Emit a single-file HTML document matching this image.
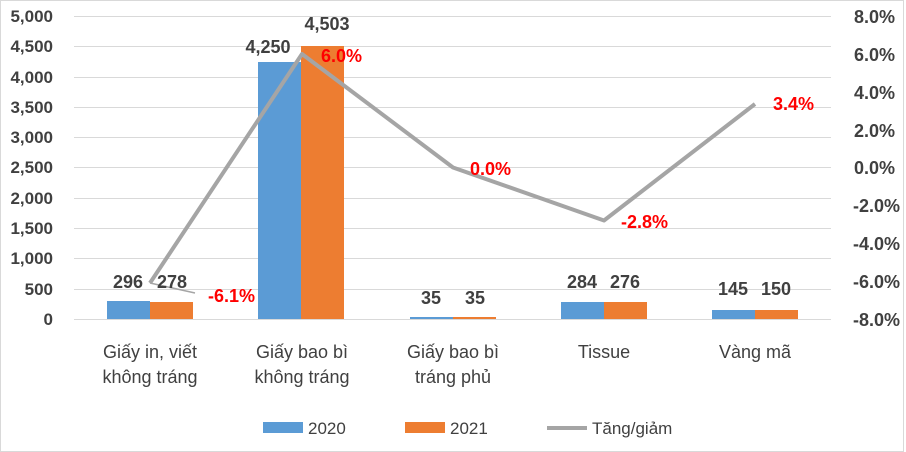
<!DOCTYPE html>
<html><head><meta charset="utf-8"><style>
body{margin:0;background:#fff}
svg{display:block;font-family:"Liberation Sans",Arial,sans-serif}
</style></head><body>
<svg width="906" height="452" viewBox="0 0 906 452">
<rect x="0.5" y="0.5" width="903" height="451" fill="#fff" stroke="#d9d9d9"/>
<g stroke="#d9d9d9" stroke-width="1">
<line x1="74" x2="831" y1="16.5" y2="16.5"/><line x1="74" x2="831" y1="46.5" y2="46.5"/>
<line x1="74" x2="831" y1="77.5" y2="77.5"/><line x1="74" x2="831" y1="107.5" y2="107.5"/>
<line x1="74" x2="831" y1="137.5" y2="137.5"/><line x1="74" x2="831" y1="167.5" y2="167.5"/>
<line x1="74" x2="831" y1="198.5" y2="198.5"/><line x1="74" x2="831" y1="228.5" y2="228.5"/>
<line x1="74" x2="831" y1="258.5" y2="258.5"/><line x1="74" x2="831" y1="289.5" y2="289.5"/>
<line x1="74" x2="831" y1="319.5" y2="319.5"/>
</g>
<g font-size="17" font-weight="bold" fill="#404040" text-anchor="end">
<text x="53" y="22">5,000</text><text x="53" y="52">4,500</text><text x="53" y="83">4,000</text>
<text x="53" y="113">3,500</text><text x="53" y="143">3,000</text><text x="53" y="173">2,500</text>
<text x="53" y="204">2,000</text><text x="53" y="234">1,500</text><text x="53" y="264">1,000</text>
<text x="53" y="295">500</text><text x="53" y="325">0</text>
</g>
<g font-size="18" font-weight="bold" fill="#404040" text-anchor="end">
<text x="895" y="23">8.0%</text><text x="895" y="61">6.0%</text><text x="895" y="99">4.0%</text>
<text x="895" y="137">2.0%</text><text x="895" y="174">0.0%</text><text x="900" y="212">-2.0%</text>
<text x="900" y="250">-4.0%</text><text x="900" y="288">-6.0%</text><text x="900" y="326">-8.0%</text>
</g>
<g fill="#5b9bd5">
<rect x="107" y="301" width="43" height="18"/><rect x="258" y="62" width="43" height="257"/>
<rect x="410" y="317" width="43" height="2"/><rect x="561" y="302" width="43" height="17"/>
<rect x="712" y="310" width="43" height="9"/>
</g>
<g fill="#ed7d31">
<rect x="150" y="302" width="43" height="17"/><rect x="301" y="46" width="43" height="273"/>
<rect x="453" y="317" width="43" height="2"/><rect x="604" y="302" width="43" height="17"/>
<rect x="755" y="310" width="43" height="9"/>
</g>
<polyline points="150,283 302,54 453,167.5 604,220.5 755,104" fill="none" stroke="#a5a5a5" stroke-width="4" stroke-linejoin="round"/>
<line x1="150" y1="283" x2="195" y2="293" stroke="#a5a5a5" stroke-width="1.5"/>
<g font-size="18" font-weight="bold" fill="#404040" text-anchor="middle">
<text x="128" y="288">296</text><text x="172" y="288">278</text>
<text x="268" y="53">4,250</text><text x="327" y="30">4,503</text>
<text x="431" y="304">35</text><text x="475" y="304">35</text>
<text x="582" y="288">284</text><text x="625" y="288">276</text>
<text x="733" y="295">145</text><text x="776" y="295">150</text>
</g>
<g font-size="18" font-weight="bold" fill="#ff0000">
<text x="208" y="302">-6.1%</text><text x="321" y="62">6.0%</text>
<text x="470" y="175">0.0%</text><text x="621" y="228">-2.8%</text><text x="773" y="110">3.4%</text>
</g>
<g font-size="18" fill="#404040" text-anchor="middle">
<text x="150" y="358">Giấy in, viết</text><text x="150" y="383">không tráng</text>
<text x="302" y="358">Giấy bao bì</text><text x="302" y="383">không tráng</text>
<text x="453" y="358">Giấy bao bì</text><text x="453" y="383">tráng phủ</text>
<text x="604" y="358">Tissue</text><text x="755" y="358">Vàng mã</text>
</g>
<rect x="263" y="422" width="40" height="11" fill="#5b9bd5"/>
<text x="308" y="434" font-size="17" fill="#404040">2020</text>
<rect x="405" y="422" width="40" height="11" fill="#ed7d31"/>
<text x="450" y="434" font-size="17" fill="#404040">2021</text>
<line x1="547" y1="428" x2="587" y2="428" stroke="#a5a5a5" stroke-width="4"/>
<text x="592" y="434" font-size="17" fill="#404040">Tăng/giảm</text>
</svg>
</body></html>
